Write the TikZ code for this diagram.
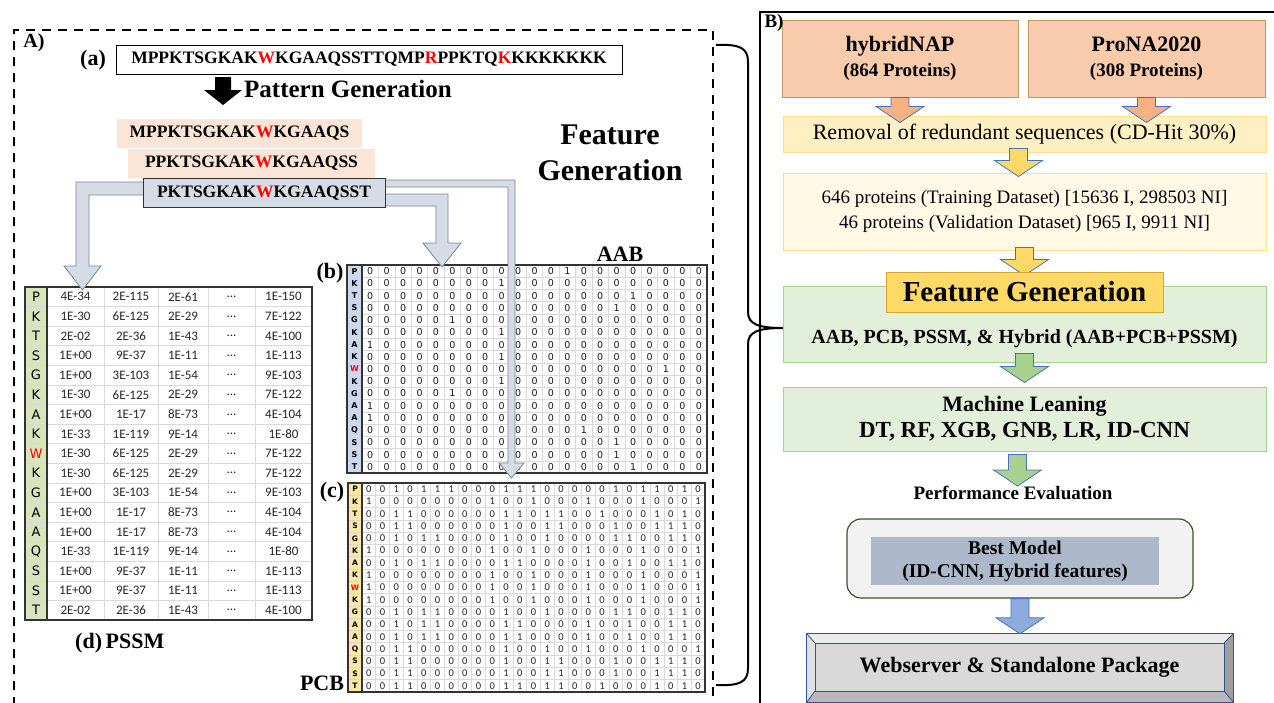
\documentclass[tikz,border=0pt]{standalone}
\usepackage{fontspec}
\setmainfont{Liberation Serif}
\newfontfamily\calfont{Carlito}
\newfontfamily\verfont{DejaVu Sans}
\usetikzlibrary{calc}

\definecolor{peach}{HTML}{FBE5D6}
\definecolor{slate}{HTML}{D6DCE5}
\definecolor{slateline}{HTML}{76869A}
\definecolor{salmon}{HTML}{F8CBAD}
\definecolor{salmonline}{HTML}{BF9B63}
\definecolor{salmonarr}{HTML}{F4B183}
\definecolor{arrline}{HTML}{4472C4}
\definecolor{cream}{HTML}{FFF0C4}
\definecolor{creamline}{HTML}{FFE08A}
\definecolor{paleyellow}{HTML}{FFF9E6}
\definecolor{gold}{HTML}{FFD966}
\definecolor{goldline}{HTML}{D4A72C}
\definecolor{mint}{HTML}{E2EFDA}
\definecolor{mintline}{HTML}{A9D18E}
\definecolor{mintarr}{HTML}{A9D18E}
\definecolor{darkgreen}{HTML}{385723}
\definecolor{steel}{HTML}{ADB9CA}
\definecolor{skyarr}{HTML}{8FAADC}
\definecolor{navy}{HTML}{2F5597}
\definecolor{labblue}{HTML}{C9DAF0}
\definecolor{labgreen}{HTML}{D8E4BC}
\definecolor{labyellow}{HTML}{FCE8A6}
\definecolor{cellgrid}{HTML}{D9D9D9}

\newcommand{\fsz}[2]{\fontsize{#1}{#2}\selectfont}
\newcommand{\hl}[1]{\textcolor{red}{#1}}

% physico-chemical bit rows
\def\pcbP{0,0,1,0,1,1,1,0,0,0,1,1,1,0,0,0,0,0,1,0,1,1,0,1,0}
\def\pcbK{1,0,0,0,0,0,0,0,0,1,0,0,1,0,0,0,1,0,0,0,1,0,0,0,1}
\def\pcbT{0,0,1,1,0,0,0,0,0,0,1,1,0,1,1,0,0,1,0,0,0,1,0,1,0}
\def\pcbS{0,0,1,1,0,0,0,0,0,0,1,0,0,1,1,0,0,0,1,0,0,1,1,1,0}
\def\pcbG{0,0,1,0,1,1,0,0,0,0,1,0,0,1,0,0,0,0,1,1,0,0,1,1,0}
\def\pcbA{0,0,1,0,1,1,0,0,0,0,1,1,0,0,0,0,1,0,0,1,0,0,1,1,0}
\def\pcbQ{0,0,1,1,0,0,0,0,0,0,1,0,0,1,0,0,1,0,0,0,1,0,0,0,1}

% down block arrow from #2 to the height of #3
\newcommand{\blkdown}[3]{%
  \path[#1] let \p1=#2, \p2=#3 in
    (\x1-9pt,\y1) -- (\x1+9pt,\y1) -- (\x1+9pt,\y2+16pt) -- (\x1+24pt,\y2+16pt)
    -- (\x1,\y2) -- (\x1-24pt,\y2+16pt) -- (\x1-9pt,\y2+16pt) -- cycle;}

\tikzset{
  tabline/.style={draw=black!80, line width=1.6pt},
  gridln/.style={draw=cellgrid, line width=0.6pt},
  pssmnum/.style={font=\calfont\fsz{13}{15}, text=black!85},
  pssmlab/.style={font=\verfont\fsz{13}{15}},
  aabnum/.style={font=\verfont\fsz{9.5}{11}, text=black!90},
  aablab/.style={font=\verfont\bfseries\fsz{8}{10}},
  pcbnum/.style={font=\calfont\fsz{10.5}{12}, text=black!85},
  pcblab/.style={font=\verfont\bfseries\fsz{7.5}{9}},
  winbox/.style={font=\bfseries\fsz{17.5}{20}, minimum height=29pt},
  bentarrow/.style={fill=slate, draw=slateline, line width=0.8pt},
  tag/.style={font=\bfseries\fsz{22}{24}},
  srcbox/.style={draw=salmonline, fill=salmon, line width=1pt, minimum width=236pt,
    minimum height=77pt, align=center, font=\bfseries\fsz{22}{25}},
  flowbox/.style={minimum width=483pt, line width=1pt, align=center},
  salmonblk/.style={fill=salmonarr, draw=arrline, line width=0.8pt},
  goldblk/.style={fill=gold, draw=arrline, line width=0.8pt},
  mintblk/.style={fill=mintarr, draw=arrline, line width=0.8pt},
  skyblk/.style={fill=skyarr, draw=arrline, line width=0.8pt}
}

\begin{document}
\begin{tikzpicture}[x=1pt,y=-1pt,every node/.style={inner sep=0pt}]
  \useasboundingbox[fill=white] (0,0) rectangle (1274,702);

  % ---------- panel A ----------
  \draw[line width=2.2pt, dash pattern=on 9pt off 7pt] (14,706) -- (14,30) -- (713,30) -- (713,706);
  \node[font=\bfseries\fsz{20}{22}] (lblA) at (34,43) {A)};
  \node[tag] (taga) at (93,60) {(a)};
  \node[draw=black, line width=1pt, fill=white, minimum width=506pt, minimum height=29pt,
    font=\bfseries\fsz{17.5}{20}] (seq) at (369,59.5)
    {MPPKTSGKAK\hl{W}KGAAQSSTTQMP\hl{R}PPKTQ\hl{K}KKKKKKK};
  \fill[black] (215,77) -- (231,77) -- (231,90) -- (242,90) -- (223,105) -- (204,90) -- (215,90) -- cycle;
  \node[anchor=west, font=\bfseries\fsz{25}{28}] (patgen) at (244,89) {Pattern Generation};

  \node[align=center, font=\bfseries\fsz{30}{36}] (featgen) at (610,153) {Feature\\Generation};

  % PSSM
  \fill[labgreen] (25,287) rectangle (47,620);
  \foreach \k in {1,...,16} \draw[gridln] (25,287+19.59*\k) -- (312,287+19.59*\k);
  \foreach \x in {104,158,208,255} \draw[gridln] (\x,287) -- (\x,620);
  \foreach \aa/\ca/\va/\vb/\vc/\vd [count=\row] in {
    P/black/4E-34/2E-115/2E-61/1E-150,
    K/black/1E-30/6E-125/2E-29/7E-122,
    T/black/2E-02/2E-36/1E-43/4E-100,
    S/black/1E+00/9E-37/1E-11/1E-113,
    G/black/1E+00/3E-103/1E-54/9E-103,
    K/black/1E-30/6E-125/2E-29/7E-122,
    A/black/1E+00/1E-17/8E-73/4E-104,
    K/black/1E-33/1E-119/9E-14/1E-80,
    W/red/1E-30/6E-125/2E-29/7E-122,
    K/black/1E-30/6E-125/2E-29/7E-122,
    G/black/1E+00/3E-103/1E-54/9E-103,
    A/black/1E+00/1E-17/8E-73/4E-104,
    A/black/1E+00/1E-17/8E-73/4E-104,
    Q/black/1E-33/1E-119/9E-14/1E-80,
    S/black/1E+00/9E-37/1E-11/1E-113,
    S/black/1E+00/9E-37/1E-11/1E-113,
    T/black/2E-02/2E-36/1E-43/4E-100}{
    \node[pssmlab, text=\ca] (pssm-\row-0) at (36,287+19.59*\row-9.8) {\aa};
    \node[pssmnum] (pssm-\row-1) at (75.5,287+19.59*\row-9.8) {\va};
    \node[pssmnum] (pssm-\row-2) at (131,287+19.59*\row-9.8) {\vb};
    \node[pssmnum] (pssm-\row-3) at (183,287+19.59*\row-9.8) {\vc};
    \node[pssmnum] (pssm-\row-4) at (231.5,287+19.59*\row-9.8) {...};
    \node[pssmnum] (pssm-\row-5) at (283.5,287+19.59*\row-9.8) {\vd};
  }
  \draw[tabline] (47,287) -- (47,620);
  \draw[tabline] (25,287) rectangle (312,620);
  \node[anchor=west, tag] (tagd) at (75,643) {(d)\,PSSM};

  % AAB
  \node[tag] (tagb) at (330,273) {(b)};
  \node[tag] (aabtitle) at (620,254) {AAB};
  \fill[labblue] (347,265) rectangle (362,473);
  \foreach \k in {1,...,16} \draw[gridln] (347,265+12.24*\k) -- (707,265+12.24*\k);
  \foreach \k in {1,...,20} \draw[gridln] (362+16.43*\k,265) -- (362+16.43*\k,473);
  \foreach \aa/\hot/\ca [count=\row] in {P/13/black,K/9/black,T/17/black,S/16/black,
      G/6/black,K/9/black,A/1/black,K/9/black,W/19/red,K/9/black,G/6/black,A/1/black,
      A/1/black,Q/14/black,S/16/black,S/16/black,T/17/black}{
    \node[aablab, text=\ca] (aab-\row-0) at (354.5,265+12.24*\row-6.12) {\aa};
    \foreach \col in {1,...,21}{
      \ifnum\col=\hot\relax\def\bit{1}\else\def\bit{0}\fi
      \node[aabnum] (aab-\row-\col) at (362+16.43*\col-8.2,265+12.24*\row-6.12) {\bit};
    }
  }
  \draw[tabline] (362,265) -- (362,473);
  \draw[tabline] (347,265) rectangle (707,473);

  % PCB
  \node[tag] (tagc) at (332,492) {(c)};
  \node[tag] (pcbtitle) at (322,683) {PCB};
  \fill[labyellow] (348,483) rectangle (362,692);
  \foreach \k in {1,...,16} \draw[gridln] (348,483+12.29*\k) -- (705,483+12.29*\k);
  \foreach \k in {1,...,24} \draw[gridln] (362+13.72*\k,483) -- (362+13.72*\k,692);
  \foreach \aa/\pat/\ca [count=\row] in {P/P/black,K/K/black,T/T/black,S/S/black,
      G/G/black,K/K/black,A/A/black,K/K/black,W/K/red,K/K/black,G/G/black,A/A/black,
      A/A/black,Q/Q/black,S/S/black,S/S/black,T/T/black}{
    \node[pcblab, text=\ca] (pcb-\row-0) at (355,483+12.29*\row-6.15) {\aa};
    \edef\bits{\csname pcb\pat\endcsname}
    \foreach \v [count=\col] in \bits{
      \node[pcbnum] (pcb-\row-\col) at (362+13.72*\col-6.86,483+12.29*\row-6.15) {\v};
    }
  }
  \draw[tabline] (362,483) -- (362,692);
  \draw[tabline] (348,483) rectangle (705,692);

  % window arrows
  \draw[bentarrow] (380,180) -- (515,180) -- (515,463) -- (524,463) -- (511.5,478)
    -- (499,463) -- (508,463) -- (508,187) -- (380,187) -- cycle;
  \draw[bentarrow] (380,194) -- (448,194) -- (448,243) -- (461,243) -- (442,267)
    -- (423,243) -- (436,243) -- (436,206) -- (380,206) -- cycle;
  \draw[bentarrow] (148,182) -- (76,182) -- (76,266) -- (64,266) -- (82.5,290)
    -- (101,266) -- (89,266) -- (89,195) -- (148,195) -- cycle;

  % sliding windows
  \node[winbox, fill=peach, minimum width=245pt] (win1) at (239.5,133) {MPPKTSGKAK\hl{W}KGAAQS};
  \node[winbox, fill=peach, minimum width=247pt] (win2) at (251.5,163.5) {PPKTSGKAK\hl{W}KGAAQSS};
  \node[winbox, fill=slate, draw=black!80, line width=0.8pt, minimum width=242pt] (win3) at (264,193) {PKTSGKAK\hl{W}KGAAQSST};

  % brace
  \draw[line width=2pt] (716,45) .. controls (740,44) and (748,48) .. (748,62) -- (748,312)
    .. controls (748,324) and (758,328) .. (783,328);
  \draw[line width=2pt] (783,328) .. controls (758,328) and (748,332) .. (748,344) -- (748,668)
    .. controls (748,682) and (740,686) .. (716,685);

  % ---------- panel B ----------
  \draw[line width=2.2pt] (760,706) -- (760,12) -- (1280,12);

  \node[srcbox] (hyb) at (900,58.5) {hybridNAP\\{\fsz{19}{25}(864 Proteins)}};
  \node[srcbox, minimum width=237pt] (pro) at (1146.5,58.5) {ProNA2020\\{\fsz{19}{25}(308 Proteins)}};
  \node[flowbox, fill=cream, draw=creamline, minimum height=36pt, font=\fsz{22}{24}] (rem) at (1024.5,134)
    {Removal of redundant sequences (CD-Hit 30\%)};
  \node[flowbox, fill=paleyellow, draw=creamline, minimum height=77pt, font=\fsz{19}{25}] (data) at (1024.5,211.5)
    {646 proteins (Training Dataset) [15636 I, 298503 NI]\\46 proteins (Validation Dataset) [965 I, 9911 NI]};
  \node[flowbox, fill=mint, draw=mintline, minimum height=76pt] (feat) at (1024.5,324) {};
  \node[font=\bfseries\fsz{20}{22}] (featlist) at (1024.5,339) {AAB, PCB, PSSM, \& Hybrid (AAB+PCB+PSSM)};
  \node[flowbox, fill=mint, draw=mintline, minimum height=64pt, font=\bfseries\fsz{22}{26}] (ml) at (1024.5,419)
    {Machine Leaning\\{\fsz{23}{26}DT, RF, XGB, GNB, LR, ID-CNN}};
  \node[font=\bfseries\fsz{19}{22}] (perf) at (1013,493) {Performance Evaluation};
  \node[fill=black!5, draw=darkgreen, line width=1.2pt, rounded corners=14pt,
    minimum width=346pt, minimum height=79pt] (best) at (1020,558.5) {};
  \node[fill=steel, minimum width=288pt, minimum height=48pt, align=center,
    font=\bfseries\fsz{19.5}{23}] (bestin) at (1015,561) {Best Model\\(ID-CNN, Hybrid features)};

  % bevelled package box
  \node[fill=black!20, minimum width=426pt, minimum height=68pt] (webframe) at (1020,668) {};
  \node[minimum width=409pt, minimum height=48pt] (web) at (1019.5,667) {};
  \fill[black!8] (webframe.north west) -- (webframe.north east) -- (web.north east) -- (web.north west) -- cycle;
  \fill[black!12] (webframe.north west) -- (web.north west) -- (web.south west) -- (webframe.south west) -- cycle;
  \fill[black!38] (webframe.north east) -- (web.north east) -- (web.south east) -- (webframe.south east) -- cycle;
  \fill[black!28] (webframe.south west) -- (web.south west) -- (web.south east) -- (webframe.south east) -- cycle;
  \draw[navy, line width=0.8pt] (webframe.north west) -- (web.north west) (webframe.north east) -- (web.north east)
    (webframe.south west) -- (web.south west) (webframe.south east) -- (web.south east);
  \node[fill=black!15, draw=navy, line width=0.8pt, minimum width=409pt, minimum height=48pt,
    font=\bfseries\fsz{22}{24}] (webtxt) at (web) {Webserver \& Standalone Package};
  \draw[navy, line width=1pt] (webframe.north west) rectangle (webframe.south east);

  % block arrows
  \blkdown{salmonblk}{(hyb.south)}{($(rem.north)+(0,7)$)}
  \blkdown{salmonblk}{(pro.south)}{($(rem.north)+(0,7)$)}
  \blkdown{goldblk}{($(rem.south)+(-6,-4)$)}{($(data.north)+(0,4)$)}
  \blkdown{goldblk}{($(data.south)+(0,-3)$)}{($(feat.north)+(0,-10)$)}
  \blkdown{mintblk}{($(feat.south)+(0,-9)$)}{($(ml.north)+(0,-4)$)}
  \blkdown{mintblk}{($(ml.south)+(-7,3)$)}{(perf.north)}
  \blkdown{skyblk}{(best.south)}{(webframe.north)}

  \node[fill=gold, draw=goldline, line width=1pt, minimum width=277pt, minimum height=40pt,
    font=\bfseries\fsz{29}{32}] (featlab) at (1024.5,292) {Feature Generation};
  \node[font=\bfseries\fsz{19}{20}] (lblB) at (774,23) {B)};
\end{tikzpicture}
\end{document}
